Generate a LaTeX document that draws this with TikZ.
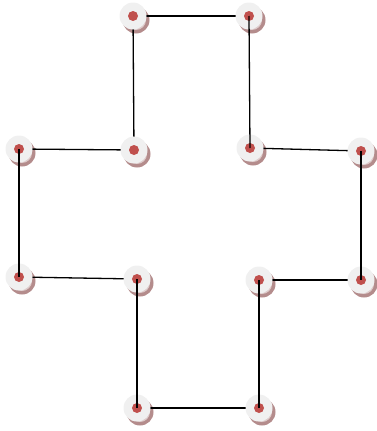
\documentclass[tikz,border=0pt]{standalone}
\usetikzlibrary{calc}
\definecolor{disc}{RGB}{240,240,240}
\definecolor{shadowdark}{RGB}{180,140,140}
\definecolor{shadowlight}{RGB}{222,204,204}
\definecolor{dotred}{RGB}{192,80,77}
\tikzset{
  x=1pt,y=-1pt,
  pin/.style={circle,minimum size=27pt,inner sep=0pt,fill=disc},
  shad/.style={circle,minimum size=27pt,inner sep=0pt,fill=shadowdark},
  shadin/.style={circle,minimum size=20pt,inner sep=0pt,fill=shadowlight},
  reddot/.style={circle,minimum size=10pt,inner sep=0pt,fill=dotred},
  link/.style={line width=1.3pt,black}
}
\begin{document}
\begin{tikzpicture}
\useasboundingbox (0,0) rectangle (376,431);
% centres
\coordinate (c1) at (133,16);
\coordinate (c2) at (249,16);
\coordinate (c3) at (134,150);
\coordinate (c4) at (250,148);
\coordinate (c5) at (19,149);
\coordinate (c6) at (361,151);
\coordinate (c7) at (19,277);
\coordinate (c8) at (137,279);
\coordinate (c9) at (259,280);
\coordinate (c10) at (361,280);
\coordinate (c11) at (137,408);
\coordinate (c12) at (259,408);
% shadows
\foreach \i in {1,...,12}{
  \node[shad] (s\i) at ($(c\i)+(3,4)$) {};
  \node[shadin] (si\i) at ($(c\i)+(3,4)$) {};
}
% back connectors
\draw[link] (c1) -- (c2);
\draw[link] (c1) -- (c3);
\draw[link] (c3) -- (c5);
\draw[link] (c4) -- (c6);
\draw[link] (c7) -- (c8);
\draw[link] (c9) -- (c10);
\draw[link] (c11) -- (c12);
% discs
\foreach \i in {1,...,12}{
  \node[pin] (n\i) at (c\i) {};
  \node[reddot] (d\i) at (c\i) {};
}
% front connectors
\draw[link] (d2.center) -- (d4.center);
\draw[link] (d5.center) -- (d7.center);
\draw[link] (d6.center) -- (d10.center);
\draw[link] (d8.center) -- (d11.center);
\draw[link] (d9.center) -- (d12.center);
\end{tikzpicture}
\end{document}
